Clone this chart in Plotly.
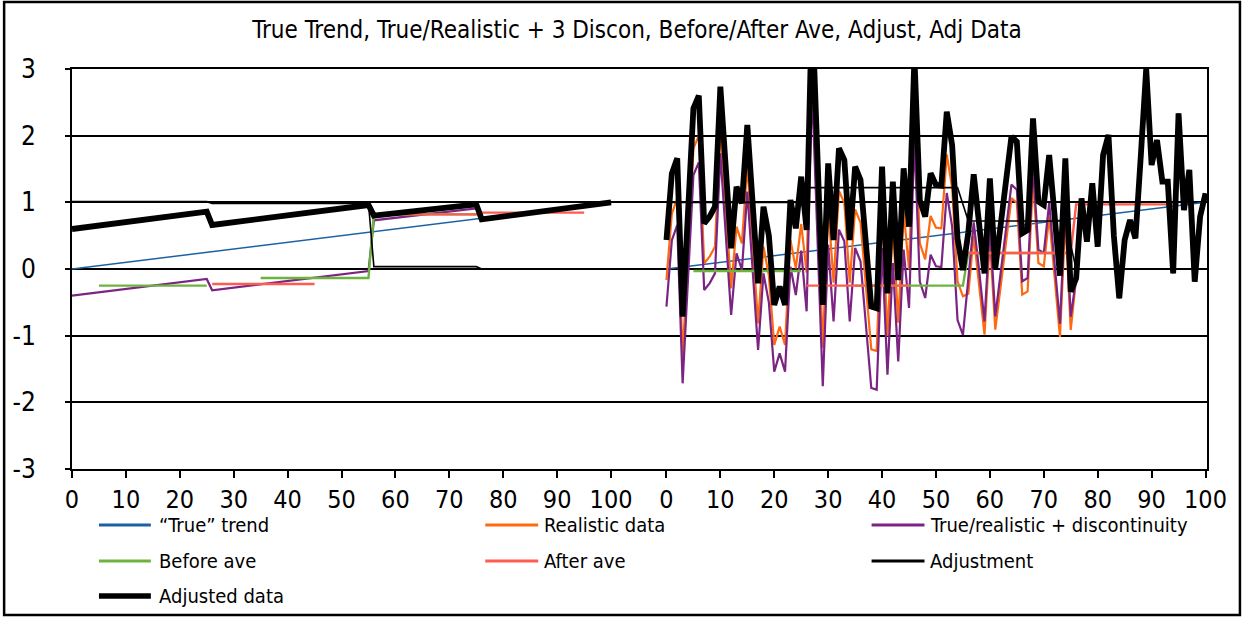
import plotly.graph_objects as go

# ---------------- data ----------------
# Left panel (idealised case): vertices of piecewise-linear series
left_trend_years = [0, 100]
left_trend = [0.0, 1.0]
left_disc_years = [0, 25, 26, 55, 56, 75, 76, 100]
left_disc = [-0.40, -0.15, -0.32, -0.03, 0.73, 0.91, 0.76, 1.00]
left_before_years = [5, 25, None, 35, 55, 56, 75]
left_before = [-0.25, -0.25, None, -0.135, -0.135, 0.82, 0.82]
left_after_years = [26, 45, None, 56, 75, 76, 95]
left_after = [-0.225, -0.225, None, 0.82, 0.82, 0.845, 0.845]
left_adj_years = [0, 25, 26, 55, 56, 75, 76, 100]
left_adj = [1.01, 1.01, 0.985, 0.985, 0.035, 0.035, 0.0, 0.0]
left_adjdata_years = [0, 25, 26, 55, 56, 75, 76, 100]
left_adjdata = [0.60, 0.86, 0.66, 0.96, 0.80, 0.97, 0.745, 1.00]

# Right panel (realistic case)
right_years = list(range(101))
right_trend_years = [0, 100]
right_trend = [0.0, 1.0]
right_realistic = [
    -0.165, 0.83, 1.06, -1.315, 0.25, 1.81, 2.0, 0.085, 0.185, 0.335,
    2.135, 0.89, -0.29, 0.635, 0.385, 1.56, 0.37, -0.815, 0.335, -0.1,
    -1.14, -0.865, -1.14, 0.435, 0.01, 0.675, -0.055, 3.31, 1.08, -1.18,
    0.945, -0.205, 1.17, 0.995, -0.205, 0.895, 0.695, -0.255, -1.205, -1.23,
    0.895, -1.005, 0.67, -0.805, 0.87, -0.005, 2.54, 0.39, 0.145, 0.795,
    0.62, 0.61, 1.72, 1.215, -0.185, -0.41, -0.37, 0.5, -0.22, -0.985,
    0.44, -0.91, -0.26, 0.41, 1.065, 0.99, -0.385, -0.335, 1.34, 0.09,
    0.04, 0.79, -0.17, -1.02, 0.74, -0.915, -0.14, 1.06, 0.41, 1.285,
    0.335, 1.71, 2.01, 0.5, -0.44, 0.435, 0.735, 0.46, 1.7, 3.0,
    1.56, 1.935, 1.31, 1.31, -0.065, 2.335, 0.885, 1.485, -0.19, 0.785,
    1.135]
right_disc = [
    -0.565, 0.43, 0.66, -1.715, -0.15, 1.41, 1.6, -0.315, -0.215, -0.065,
    1.735, 0.49, -0.69, 0.235, -0.015, 1.16, -0.03, -1.215, -0.065, -0.5,
    -1.54, -1.265, -1.54, 0.035, -0.39, 0.275, -0.635, 2.73, 0.5, -1.76,
    0.365, -0.785, 0.59, 0.415, -0.785, 0.315, 0.115, -0.835, -1.785, -1.81,
    0.315, -1.585, 0.09, -1.385, 0.29, -0.585, 1.96, -0.19, -0.435, 0.215,
    0.04, 0.03, 1.14, 0.635, -0.765, -0.99, -0.17, 0.7, -0.02, -0.785,
    0.64, -0.71, -0.06, 0.61, 1.265, 1.19, -0.185, -0.135, 1.54, 0.29,
    0.24, 0.99, 0.03, -0.82, 0.94, -0.715, -0.14, 1.06, 0.41, 1.285,
    0.335, 1.71, 2.01, 0.5, -0.44, 0.435, 0.735, 0.46, 1.7, 3.0,
    1.56, 1.935, 1.31, 1.31, -0.065, 2.335, 0.885, 1.485, -0.19, 0.785,
    1.135]
right_adjdata = [
    0.435, 1.43, 1.66, -0.715, 0.85, 2.41, 2.6, 0.685, 0.785, 0.935,
    2.735, 1.49, 0.31, 1.235, 0.985, 2.16, 0.97, -0.215, 0.935, 0.5,
    -0.54, -0.265, -0.54, 1.035, 0.61, 1.385, 0.585, 3.95, 1.72, -0.54,
    1.585, 0.435, 1.81, 1.635, 0.435, 1.535, 1.335, 0.385, -0.565, -0.59,
    1.535, -0.365, 1.31, -0.165, 1.51, 0.635, 3.18, 1.03, 0.785, 1.435,
    1.26, 1.25, 2.36, 1.855, 0.455, -0.015, 0.55, 1.42, 0.7, -0.065,
    1.36, 0.01, 0.66, 1.33, 1.985, 1.91, 0.535, 0.585, 2.26, 1.01,
    0.96, 1.71, 0.75, -0.1, 1.66, -0.34, -0.14, 1.06, 0.41, 1.285,
    0.335, 1.71, 2.01, 0.5, -0.44, 0.435, 0.735, 0.46, 1.7, 3.0,
    1.56, 1.935, 1.31, 1.31, -0.065, 2.335, 0.885, 1.485, -0.19, 0.785,
    1.135]
right_before_years = [5, 25, None, 35, 55, 56, 75]
right_before = [-0.03, -0.03, None, -0.25, -0.25, 0.24, 0.24]
right_after_years = [26, 45, None, 56, 75, 76, 95]
right_after = [-0.25, -0.25, None, 0.24, 0.24, 0.97, 0.97]
right_adj_years = [0, 24, 25, 26, 54, 55, 56, 74, 75, 76, 100]
right_adj = [1.0, 1.0, 1.11, 1.22, 1.22, 0.975, 0.72, 0.72, 0.375, 0.0, 0.0]

x_tick_labels = ["0", "10", "20", "30", "40", "50", "60", "70", "80", "90", "100"]
y_tick_vals = [-3, -2, -1, 0, 1, 2, 3]
y_tick_labels = ["-3", "-2", "-1", "0", "1", "2", "3"]

series_names = ["\u201cTrue\u201d trend", "Realistic data", "True/realistic + discontinuity",
                "Before ave", "After ave", "Adjustment", "Adjusted data"]

# ---------------- layout constants ----------------
W, H = 1244, 618
L, R, T, B = 70, 37, 69, 149
PW, PH = W - L - R, H - T - B
PX_PER_UNIT = 5.40
XMAX = PW / PX_PER_UNIT
OFFSET = (665.5 - L) / PX_PER_UNIT   # x position of right panel year 0

FONT = "DejaVu Sans Condensed, Liberation Sans, Arial"

colors = ["#1B62A5", "#FF6A10", "#7B2483", "#6DB33F", "#FF5B50", "#000000", "#000000"]
widths = [1.5, 2.2, 2.2, 2.4, 2.4, 1.6, 5.8]


def combine(ly, lv, ry, rv):
    xs, ys = [], []
    if ly is not None:
        xs += list(ly)
        ys += list(lv)
        xs.append(None)
        ys.append(None)
    xs += [None if v is None else v + OFFSET for v in ry]
    ys += list(rv)
    return xs, ys


series = [
    combine(left_trend_years, left_trend, right_trend_years, right_trend),
    combine(None, None, right_years, right_realistic),
    combine(left_disc_years, left_disc, right_years, right_disc),
    combine(left_before_years, left_before, right_before_years, right_before),
    combine(left_after_years, left_after, right_after_years, right_after),
    combine(left_adj_years, left_adj, right_adj_years, right_adj),
    combine(left_adjdata_years, left_adjdata, right_years, right_adjdata),
]

fig = go.Figure()
for (xs, ys), name, c, w in zip(series, series_names, colors, widths):
    fig.add_trace(go.Scatter(x=xs, y=ys, mode="lines", name=name,
                             line=dict(color=c, width=w), connectgaps=False,
                             showlegend=False, cliponaxis=True))

tickvals = [v for v in range(0, 101, 10)] + [v + OFFSET for v in range(0, 101, 10)]
ticktext = x_tick_labels + x_tick_labels

fig.update_layout(
    width=W, height=H,
    margin=dict(l=L, r=R, t=T, b=B, pad=0),
    paper_bgcolor="white", plot_bgcolor="white",
    font=dict(family=FONT, color="black"),
    title=dict(text="True Trend, True/Realistic + 3 Discon, Before/After Ave, Adjust, Adj Data",
               x=637 / W, xanchor="center", y=1 - 30 / H, yanchor="middle",
               font=dict(size=24, family=FONT, color="black")),
    xaxis=dict(range=[0, XMAX], showgrid=False, zeroline=False, showline=True,
               linecolor="black", linewidth=2, mirror=True,
               tickmode="array", tickvals=tickvals, ticktext=ticktext,
               ticks="outside", ticklen=7, tickwidth=1.6, tickcolor="black",
               tickfont=dict(size=25, family=FONT, color="black")),
    yaxis=dict(range=[-3, 3], showgrid=True, gridcolor="black", gridwidth=2,
               tickmode="array", tickvals=y_tick_vals, ticktext=y_tick_labels,
               zeroline=False, showline=True, linecolor="black", linewidth=2, mirror=True,
               ticks="outside", ticklen=5, tickwidth=1.6, tickcolor="black",
               tickfont=dict(size=26, family=FONT, color="black"),
               ticklabelstandoff=24),
    showlegend=False,
)


def px2x(px):
    return (px - L) / PW


def py2y(py):
    return (H - B - py) / PH


# outer chart border
fig.add_shape(type="rect", xref="paper", yref="paper",
              x0=px2x(2), x1=px2x(1240), y0=py2y(615), y1=py2y(2),
              line=dict(color="black", width=2.5), fillcolor="rgba(0,0,0,0)", layer="above")

# manual legend (3 columns, row-major)
cols = [(97, 149, 155), (484, 537, 541), (871, 924, 928)]
rows = [525, 561, 596]
for k, name in enumerate(series_names):
    r, c = divmod(k, 3)
    x0, x1, xt = cols[c]
    yy = rows[r]
    fig.add_shape(type="line", xref="paper", yref="paper",
                  x0=px2x(x0), x1=px2x(x1), y0=py2y(yy), y1=py2y(yy),
                  line=dict(color=colors[k], width=3 if k != 6 else 5.5))
    fig.add_annotation(xref="paper", yref="paper", x=px2x(xt), y=py2y(yy),
                       xanchor="left", yanchor="middle", showarrow=False, text=name,
                       font=dict(size=20, family=FONT, color="black"))

fig.write_html("out.html", config={"displayModeBar": False},
               post_script="document.body.style.margin='0';document.body.style.overflow='hidden';")
